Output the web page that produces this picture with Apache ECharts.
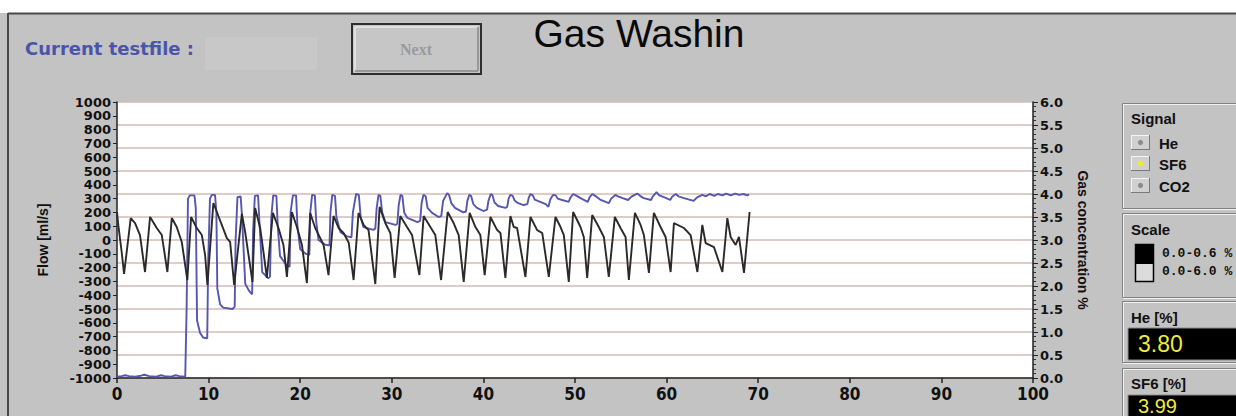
<!DOCTYPE html>
<html><head><meta charset="utf-8">
<script src="https://cdn.jsdelivr.net/npm/echarts@6/dist/echarts.min.js"></script>
<style>html,body{margin:0;padding:0;background:#fff;}#c{width:1236px;height:416px;}</style>
</head><body><div id="c"></div>
<script>
// Flow [ml/s] vs time [s] (left axis)
const flowData = [
[0,200],[0.14,110],[0.51,-87],[0.77,-246],[1.5,159],[1.97,123],[2.51,36],[3.06,-232],
[3.61,167],[4.34,87],[4.89,36],[5.5,-232],[5.98,159],[6.52,94],[7.07,-14],[7.68,-290],
[8.09,167],[8.71,87],[9.26,36],[9.62,-109],[9.87,-326],[10.52,268],[10.9,203],[11.44,109],
[11.99,14],[12.35,-14],[12.79,-326],[13.63,190],[13.99,58],[14.79,-304],[15.08,232],[15.63,87],
[15.99,-87],[16.36,-275],[17.02,196],[17.63,87],[18.17,-36],[18.55,-268],[19.09,203],[19.64,94],
[20.19,-36],[20.73,-312],[21.09,196],[21.64,87],[22.19,14],[22.55,-36],[23.09,-254],[23.64,174],
[24.19,87],[24.73,51],[25.3,-20],[25.83,-290],[26.37,196],[26.92,109],[27.46,72],[28.2,-319],
[28.67,240],[29.29,123],[29.84,51],[30.31,-275],[30.93,174],[31.66,94],[32.21,36],[33.01,-254],
[33.48,174],[34.21,94],[34.75,36],[35.38,-290],[36.1,203],[36.75,123],[37.3,36],[37.85,-304],
[38.5,196],[39.13,94],[39.67,36],[40.14,-254],[40.77,167],[41.5,72],[41.86,51],[42.4,-275],
[42.95,174],[43.31,94],[43.68,87],[44.59,-268],[45.14,167],[45.87,72],[46.42,51],[47.14,-268],
[47.87,167],[48.42,94],[48.78,36],[49.32,-304],[49.8,203],[50.6,94],[50.96,22],[51.33,-275],
[51.88,181],[52.6,94],[53.15,22],[53.69,-268],[54.35,167],[54.97,87],[55.52,22],[55.88,-290],
[56.54,196],[57.16,109],[57.52,36],[58.07,-239],[58.61,196],[59.34,94],[59.89,22],[60.44,-232],
[60.8,123],[61.89,87],[62.62,36],[63.36,-232],[63.9,109],[64.26,-22],[65.17,-51],[66.09,-232],
[66.63,159],[66.99,22],[67.54,-36],[67.9,22],[68.45,-239],[69.06,203]
];
// Gas concentration % (SF6) vs time [s] (right axis)
const sf6Data = [
[0,0.03],[0.5,0.04],[0.9,0.06],[1.3,0.04],[2.0,0.03],[2.6,0.05],[3.0,0.07],[3.5,0.04],[4.3,0.03],
[4.8,0.06],[5.2,0.04],[5.9,0.03],[6.4,0.06],[6.8,0.04],[7.45,0.03],
[7.6,1.5],[7.75,3.9],[7.95,3.97],[8.45,3.97],[8.6,3.7],[8.74,1.25],[9.07,0.98],[9.4,0.88],[9.85,0.86],
[9.95,2.5],[10.15,3.9],[10.35,3.98],[10.7,3.98],[10.85,3.6],[10.95,1.95],[11.26,1.6],[11.6,1.53],[12.6,1.5],[12.85,1.55],
[12.95,3.0],[13.15,3.93],[13.5,3.95],[13.65,3.5],[14.0,2.05],[14.4,1.9],[14.75,1.82],
[14.86,3.2],[15.05,3.96],[15.4,3.97],[15.55,3.4],[15.85,2.3],[16.5,2.17],[16.7,2.2],
[16.85,3.5],[17.05,3.97],[17.4,3.96],[17.55,3.3],[17.8,2.65],[18.5,2.45],[18.85,2.42],
[18.95,3.6],[19.2,3.97],[19.55,3.97],[19.7,3.3],[20.0,2.8],[20.6,2.7],[21.0,2.68],
[21.1,3.6],[21.3,3.98],[21.6,3.97],[21.75,3.4],[22.0,3.0],[22.7,2.9],[23.2,2.88],
[23.3,3.6],[23.5,3.98],[23.8,3.96],[23.95,3.5],[24.4,3.17],[25.1,3.08],[25.6,3.06],
[25.75,3.6],[26.1,4.0],[26.4,3.98],[26.6,3.5],[26.9,3.28],[28.0,3.22],[28.2,3.25],
[28.35,3.7],[28.55,3.98],[28.75,3.96],[28.95,3.6],[29.3,3.39],[30.4,3.33],[30.6,3.35],
[30.75,3.75],[30.95,3.98],[31.15,3.96],[31.35,3.6],[31.7,3.48],[32.8,3.39],[33.1,3.42],
[33.25,3.8],[33.45,3.98],[33.7,3.95],[33.9,3.7],[34.4,3.59],[35.1,3.5],[35.4,3.52],
[35.6,3.85],[36.05,4.02],[36.25,3.98],[36.5,3.8],[36.9,3.7],[37.8,3.6],[38.1,3.62],
[38.25,3.85],[38.45,3.98],[38.65,3.96],[38.9,3.78],[39.3,3.7],[40.0,3.63],[40.4,3.66],
[40.55,3.85],[40.8,4.0],[41.0,3.97],[41.2,3.82],[41.6,3.74],[42.4,3.7],[42.6,3.72],
[42.75,3.9],[42.95,3.98],[43.2,3.96],[43.4,3.86],[43.8,3.8],[44.4,3.76],[44.8,3.78],
[44.95,3.92],[45.15,4.0],[45.4,3.97],[45.6,3.88],[46.2,3.83],[46.8,3.78],[47.1,3.72],
[47.3,3.88],[47.6,3.98],[47.9,3.97],[48.1,3.9],[48.6,3.87],[49.3,3.83],[49.5,3.92],
[49.8,4.0],[50.1,3.97],[50.6,3.91],[51.4,3.83],[51.6,3.93],[51.9,4.0],[52.2,3.96],
[52.8,3.87],[53.7,3.8],[53.95,3.9],[54.4,3.98],[54.7,3.95],[55.2,3.91],[55.8,3.87],
[56.2,3.95],[56.8,4.01],[57.1,3.96],[57.5,3.91],[58.3,3.87],[58.5,3.95],[58.9,4.04],
[59.2,3.97],[59.7,3.93],[60.4,3.87],[60.6,3.94],[61.0,4.0],[61.3,3.95],[61.9,3.91],[62.95,3.85],
[63.3,3.92],[63.9,3.98],[64.3,3.95],[64.7,4.0],[65.2,3.96],[65.6,4.0],[66.1,3.97],[66.5,4.01],
[67.0,3.97],[67.5,4.01],[67.9,3.98],[68.4,4.0],[68.8,3.97],[69.0,3.99]
];
const titleText = 'Gas Washin';
const fileLabel = 'Current testfile :';
const buttonLabel = 'Next';
const flowAxisName = 'Flow [ml/s]';
const gasAxisName = 'Gas concentration %';
const signalNames = ['He', 'SF6', 'CO2'];
const scaleNames = ['0.0-0.6 %', '0.0-6.0 %'];
const readoutNames = ['He [%]', 'SF6 [%]'];
const readoutValues = ['3.80', '3.99'];

const SANS = '"Liberation Sans", Arial, sans-serif';
const WIDE = '"DejaVu Sans", sans-serif';
const NARROW = '"Liberation Sans Narrow", "DejaVu Sans Condensed", "Liberation Sans", sans-serif';

function txt(text, x, y, o) {
  o = o || {};
  return { type: 'text', z: 100, silent: true, style: Object.assign({
    text: text, x: x, y: y, fill: '#111', fontSize: 15, fontWeight: 'bold', fontFamily: SANS,
    align: 'left', textAlign: 'left', verticalAlign: 'middle', textVerticalAlign: 'middle'
  }, o) };
}
function rect(x, y, w, h, fill, stroke, lw) {
  return { type: 'rect', z: 90, silent: true, shape: { x: x, y: y, width: w, height: h },
    style: { fill: fill || 'none', stroke: stroke || 'none', lineWidth: lw || 1 } };
}
function line(x1, y1, x2, y2, color, lw) {
  return { type: 'line', z: 95, silent: true, shape: { x1: x1, y1: y1, x2: x2, y2: y2 },
    style: { stroke: color, lineWidth: lw || 1 } };
}
function groupBox(y, h) {
  return [rect(1123.5, y + 1, 140, h, 'none', '#f2f2f2', 1), rect(1122.5, y, 140, h, 'none', '#808080', 1)];
}

const g = [];
g.push(rect(0, 0, 1236, 13, '#ffffff'));
g.push(line(8, 13.5, 1236, 13.5, '#4a4a4a', 2));
g.push(line(8, 13, 8, 416, '#4a4a4a', 2));
g.push(rect(205, 37, 112, 33, '#c8c8c8'));
g.push(txt(fileLabel, 25, 48, { fill: '#4a55aa', fontFamily: WIDE, fontSize: 18 }));
// Next button
g.push(rect(352, 24, 129, 50, '#c6c6c6', '#2e2e2e', 2));
g.push(line(355, 27, 478, 27, '#e8e8e8', 1.5));
g.push(line(355, 27, 355, 71, '#e8e8e8', 1.5));
g.push(line(355, 71, 478, 71, '#8a8a8a', 1.5));
g.push(line(478, 27, 478, 71, '#8a8a8a', 1.5));
g.push(txt(buttonLabel, 416, 49, { fill: '#9a9a9a', fontFamily: '"Liberation Serif", serif', fontSize: 16, align: 'center', textAlign: 'center' }));
g.push(txt(titleText, 639, 33, { fill: '#0a0a0a', fontWeight: 'normal', fontSize: 39, align: 'center', textAlign: 'center' }));
// Signal group
g.push.apply(g, groupBox(103.5, 105));
g.push(txt('Signal', 1131, 118));
const btnTops = [135, 156, 178];
const dotColors = ['#8c8c8c', '#f2ee1a', '#8c8c8c'];
for (let i = 0; i < 3; i++) {
  const y = btnTops[i];
  g.push(rect(1131, y, 19, 15, '#d0d0d0'));
  g.push(line(1131, y + 0.5, 1150, y + 0.5, '#f4f4f4', 1));
  g.push(line(1131.5, y, 1131.5, y + 15, '#f4f4f4', 1));
  g.push(line(1131, y + 14.5, 1150, y + 14.5, '#7a7a7a', 1));
  g.push(line(1149.5, y, 1149.5, y + 15, '#7a7a7a', 1));
  g.push({ type: 'circle', z: 96, silent: true, shape: { cx: 1140.5, cy: y + 7.5, r: 2.6 }, style: { fill: dotColors[i] } });
  g.push(txt(signalNames[i], 1159, y + 8, { fontSize: 15 }));
}
// Scale group
g.push.apply(g, groupBox(213.5, 84));
g.push(txt('Scale', 1131, 229));
g.push(rect(1135.5, 244.5, 18, 37, '#dcdcdc', '#000', 1.5));
g.push(rect(1135, 244, 19, 20, '#000'));
g.push(txt(scaleNames[0], 1162, 253, { fontFamily: '"Liberation Mono", monospace', fontSize: 13 }));
g.push(txt(scaleNames[1], 1162, 271, { fontFamily: '"Liberation Mono", monospace', fontSize: 13 }));
// Readouts
g.push.apply(g, groupBox(301.5, 61));
g.push(txt(readoutNames[0], 1131, 317));
g.push(rect(1128, 328, 120, 32, '#000', '#8a8a8a', 1));
g.push(txt(readoutValues[0], 1138, 344, { fill: '#f2ea3c', fontWeight: 'normal', fontSize: 23 }));
g.push.apply(g, groupBox(368.5, 70));
g.push(txt(readoutNames[1], 1131, 383));
g.push(rect(1128, 395, 120, 30, '#000', '#8a8a8a', 1));
g.push(txt(readoutValues[1], 1138, 406, { fill: '#f2ea3c', fontWeight: 'normal', fontSize: 20 }));

const axisLbl = { color: '#111', fontFamily: WIDE, fontWeight: 'bold', fontSize: 13 };
const option = {
  animation: false,
  backgroundColor: '#c3c3c3',
  grid: { left: 117, top: 102, right: 203, bottom: 38, containLabel: false, show: true, backgroundColor: '#ffffff', borderWidth: 0 },
  xAxis: {
    type: 'value', min: 0, max: 100, interval: 10,
    axisLine: { show: true, onZero: false, lineStyle: { color: '#222', width: 1.5 } },
    axisTick: { show: true, inside: false, length: 5, lineStyle: { color: '#222', width: 1.5 } },
    axisLabel: { color: '#111', fontFamily: NARROW, fontWeight: 'bold', fontSize: 17, margin: 7, formatter: v => String(v) },
    splitLine: { show: false }
  },
  yAxis: [
    {
      type: 'value', position: 'left', min: -1000, max: 1000, interval: 100,
      name: flowAxisName, nameLocation: 'middle', nameGap: 67, nameRotate: 90,
      nameTextStyle: { color: '#111', fontFamily: SANS, fontWeight: 'bold', fontSize: 14 },
      axisLine: { show: true, onZero: false, lineStyle: { color: '#222', width: 1.5 } },
      axisTick: { show: true, inside: false, length: 4, lineStyle: { color: '#222' } },
      axisLabel: Object.assign({ margin: 6, formatter: v => String(v) }, axisLbl),
      splitLine: { show: false }
    },
    {
      type: 'value', position: 'right', min: 0, max: 6, interval: 0.5,
      name: gasAxisName, nameLocation: 'middle', nameGap: 43, nameRotate: -90,
      nameTextStyle: { color: '#111', fontFamily: SANS, fontWeight: 'bold', fontSize: 14 },
      axisLine: { show: true, onZero: false, lineStyle: { color: '#222', width: 1.5 } },
      axisTick: { show: true, inside: false, length: 5, lineStyle: { color: '#222' } },
      minorTick: { show: true, splitNumber: 5, length: 3, lineStyle: { color: '#333' } },
      axisLabel: Object.assign({ margin: 7, formatter: v => v.toFixed(1) }, axisLbl),
      splitLine: { show: true, lineStyle: { color: '#d3bdb4', width: 1.6 } }
    }
  ],
  series: [
    { name: 'SF6', type: 'line', yAxisIndex: 1, data: sf6Data, showSymbol: false, symbol: 'none',
      lineStyle: { color: '#5656b0', width: 1.9 }, z: 3 },
    { name: 'Flow', type: 'line', yAxisIndex: 0, data: flowData, showSymbol: false, symbol: 'none',
      lineStyle: { color: '#2a2a2a', width: 1.9 }, z: 4 }
  ],
  graphic: { elements: g }
};
const chart = echarts.init(document.getElementById('c'), null, { renderer: 'svg' });
chart.setOption(option);
</script></body></html>
